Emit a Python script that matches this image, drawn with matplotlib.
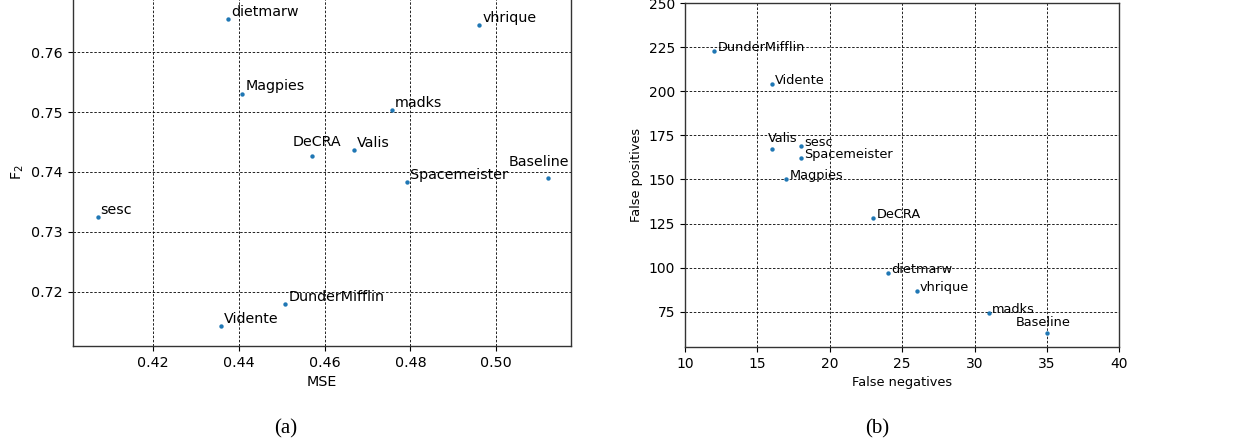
import matplotlib
matplotlib.use("Agg")
import matplotlib.pyplot as plt

# ---- data ----
teams_a = ["dietmarw", "vhrique", "Magpies", "madks", "DeCRA", "Valis",
           "Spacemeister", "Baseline", "sesc", "DunderMifflin", "Vidente"]
mse = [0.4374, 0.4961, 0.4408, 0.4756, 0.4570, 0.4668,
       0.4793, 0.5121, 0.4070, 0.4508, 0.4358]
f2 = [0.7655, 0.7645, 0.7531, 0.7503, 0.7427, 0.7436,
      0.7383, 0.7390, 0.7325, 0.7179, 0.7143]

teams_b = ["DunderMifflin", "Vidente", "Valis", "sesc", "Spacemeister",
           "Magpies", "DeCRA", "dietmarw", "vhrique", "madks", "Baseline"]
false_neg = [12, 16, 16, 18, 18, 17, 23, 24, 26, 31, 35]
false_pos = [223, 204, 167, 169, 162, 150, 128, 97, 87, 74, 63]

xticks_a = [0.42, 0.44, 0.46, 0.48, 0.50]
yticks_a = [0.72, 0.73, 0.74, 0.75, 0.76]
xticks_b = [10, 15, 20, 25, 30, 35, 40]
yticks_b = [75, 100, 125, 150, 175, 200, 225, 250]

# label offsets (points)
off_a = {"DeCRA": (-13.5, 6.8), "Baseline": (-28.5, 8.9)}
off_a_default = (2.2, 2.3)
off_b = {"Valis": (-2.8, 5.0), "Baseline": (-22.5, 5.0)}
off_b_default = (2.4, 0.0)

FS_A = 10.3
FS_B = 9.3
FS_B_TICK = 10.0

plt.rcParams["font.family"] = "DejaVu Sans"

fig = plt.figure(figsize=(12.57, 4.46), dpi=100)
W, H = 1257, 446
ax1 = fig.add_axes([72.7 / W, 1 - 346 / H, (570.7 - 72.7) / W, 348 / H])
ax2 = fig.add_axes([685 / W, 1 - 347 / H, (1119.3 - 685) / W, 344 / H])

color = "#1f77b4"
grid_kw = dict(color="black", linestyle=(0, (3, 2)), linewidth=0.6)

# panel (a)
ax1.scatter(mse, f2, s=10, color=color, zorder=3, linewidths=0)
for name, x, y in zip(teams_a, mse, f2):
    ax1.annotate(name, (x, y), xytext=off_a.get(name, off_a_default),
                 textcoords="offset points", fontsize=FS_A)
ax1.set_xlim(0.4012, 0.5174)
ax1.set_ylim(0.71095, 0.76905)
ax1.set_xticks(xticks_a)
ax1.set_xticklabels([f"{v:.2f}" for v in xticks_a])
ax1.set_yticks(yticks_a)
ax1.set_yticklabels([f"{v:.2f}" for v in yticks_a])
ax1.grid(True, **grid_kw)
ax1.set_axisbelow(True)
ax1.set_xlabel("MSE", fontsize=FS_A)
ax1.set_ylabel("F$_2$", fontsize=FS_A)
ax1.tick_params(labelsize=FS_A)

# panel (b)
ax2.scatter(false_neg, false_pos, s=10, color=color, zorder=3, linewidths=0)
for name, x, y in zip(teams_b, false_neg, false_pos):
    ax2.annotate(name, (x, y), xytext=off_b.get(name, off_b_default),
                 textcoords="offset points", fontsize=FS_B)
ax2.set_xlim(10, 40)
ax2.set_ylim(55, 250)
ax2.set_xticks(xticks_b)
ax2.set_yticks(yticks_b)
ax2.grid(True, **grid_kw)
ax2.set_axisbelow(True)
ax2.set_xlabel("False negatives", fontsize=FS_B)
ax2.set_ylabel("False positives", fontsize=FS_B)
ax2.tick_params(labelsize=FS_B_TICK)

for ax in (ax1, ax2):
    for sp in ax.spines.values():
        sp.set_linewidth(1.0)
        sp.set_color("#333333")

fig.text(286 / W, 1 - 429 / H, "(a)", ha="center", va="center",
         fontsize=15, family="Liberation Serif")
fig.text(876.7 / W, 1 - 429 / H, "(b)", ha="center", va="center",
         fontsize=15, family="Liberation Serif")

fig.savefig("out.png", dpi=100)
